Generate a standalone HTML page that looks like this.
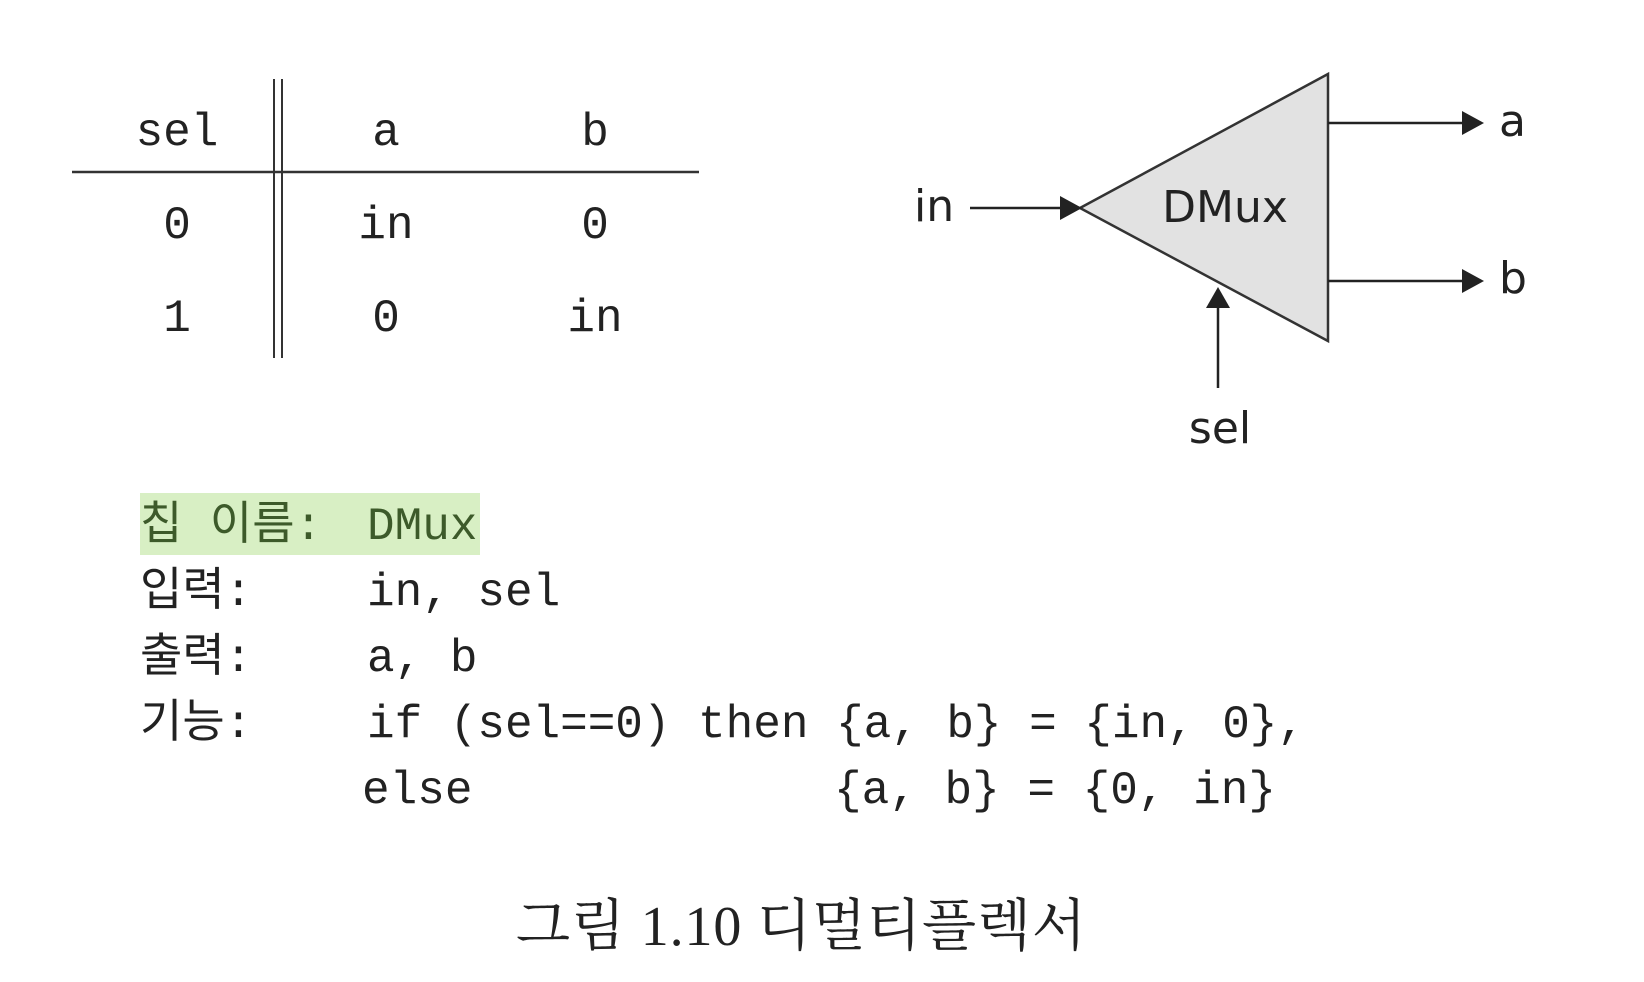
<!DOCTYPE html>
<html><head><meta charset="utf-8"><style>
html,body{margin:0;padding:0;background:#fff;}
body{width:1644px;height:982px;overflow:hidden;position:relative;}
svg{position:absolute;left:0;top:0;}
.m{font-family:"Liberation Mono","Noto Sans CJK KR",monospace;fill:#222;}
.s{font-family:"DejaVu Sans","Liberation Sans",sans-serif;fill:#222;}
</style></head><body>
<svg width="1644" height="982" viewBox="0 0 1644 982">
<g>
<line x1="72" y1="172" x2="699" y2="172" stroke="#333" stroke-width="2.5"/>
<line x1="274" y1="79" x2="274" y2="358" stroke="#333" stroke-width="2"/>
<line x1="282" y1="79" x2="282" y2="358" stroke="#333" stroke-width="2"/>
<g class="m" font-size="46" text-anchor="middle">
<text x="177" y="145">sel</text>
<text x="386" y="145">a</text>
<text x="595" y="145">b</text>
<text x="177" y="238">0</text>
<text x="386" y="238">in</text>
<text x="595" y="238">0</text>
<text x="177" y="331">1</text>
<text x="386" y="331">0</text>
<text x="595" y="331">in</text>
</g>
</g>
<g transform="translate(-6,0)">
<polygon points="1086,208 1334,74 1334,341" fill="#e2e2e2" stroke="#333" stroke-width="2.5"/>
<line x1="976" y1="208" x2="1070" y2="208" stroke="#222" stroke-width="2.5"/>
<polygon points="1066,196 1088,208 1066,220" fill="#222"/>
<line x1="1334" y1="123" x2="1470" y2="123" stroke="#222" stroke-width="2.5"/>
<polygon points="1468,111 1490,123 1468,135" fill="#222"/>
<line x1="1334" y1="281" x2="1470" y2="281" stroke="#222" stroke-width="2.5"/>
<polygon points="1468,269 1490,281 1468,293" fill="#222"/>
<line x1="1224" y1="388" x2="1224" y2="304" stroke="#222" stroke-width="2.5"/>
<polygon points="1212,308 1224,287 1236,308" fill="#222"/>
<g class="s" font-size="44">
<text x="920" y="221">in</text>
<text x="1231" y="222" text-anchor="middle">DMux</text>
<text x="1505" y="136">a</text>
<text x="1505" y="293">b</text>
<text x="1226" y="443" text-anchor="middle">sel</text>
</g>
</g>
<g>
<rect x="140" y="493" width="340" height="62" fill="#d8efc4"/>
<g class="m" font-size="46">
<text x="140" y="539" style="fill:#3d5a2a">칩 이름:</text>
<text x="367" y="539" style="fill:#3d5a2a">DMux</text>
<text x="140" y="605">입력:</text>
<text x="367" y="605">in, sel</text>
<text x="140" y="671">출력:</text>
<text x="367" y="671">a, b</text>
<text x="140" y="737">기능:</text>
<text x="367" y="737" textLength="938">if (sel==0) then {a, b} = {in, 0},</text>
<text x="362" y="803">else</text>
<text x="834" y="803" textLength="442">{a, b} = {0, in}</text>
</g>
</g>
<text x="801" y="945" text-anchor="middle" font-size="56" textLength="570" style="font-family:'Liberation Serif','Noto Serif CJK SC',serif;fill:#222">그림 1.10 디멀티플렉서</text>
</svg>
</body></html>
